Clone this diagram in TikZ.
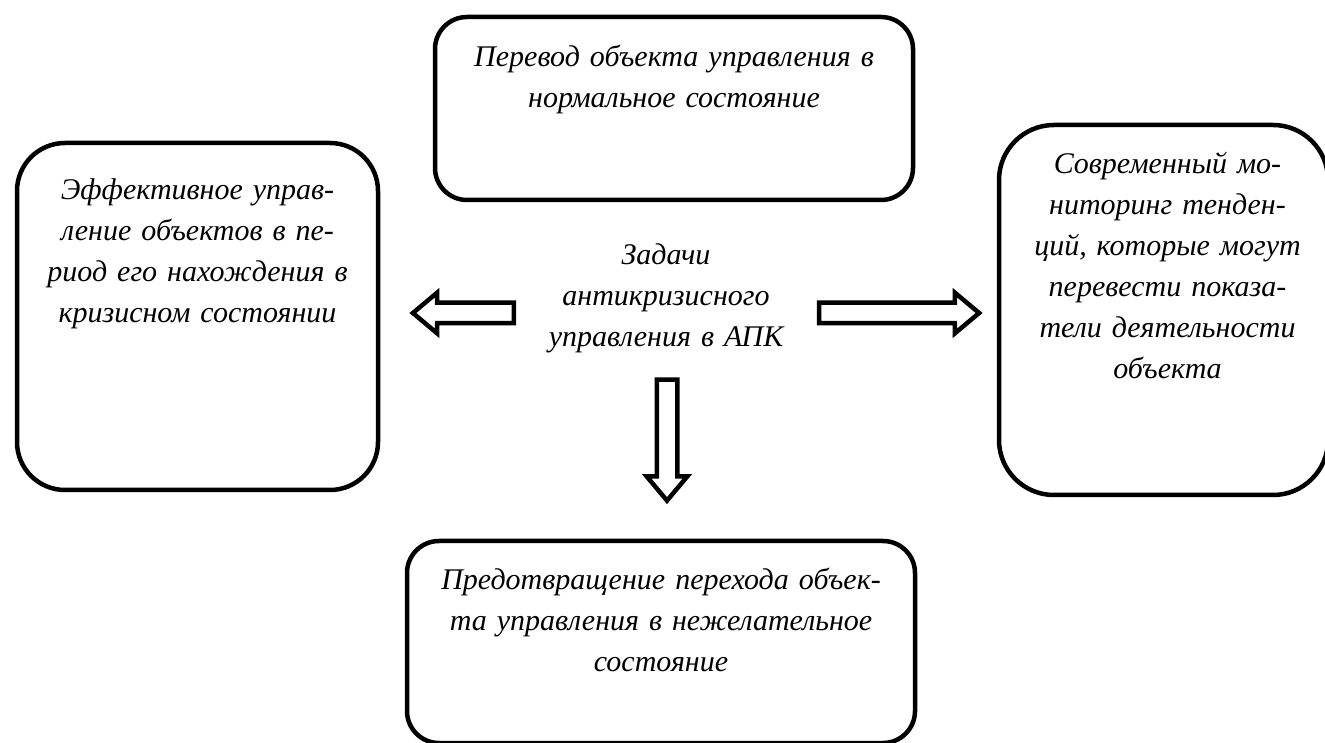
\documentclass[tikz,border=0pt]{standalone}
\usepackage{fontspec}
\setmainfont{Liberation Serif}
\usepackage{tikz}
\usetikzlibrary{shapes.arrows, positioning, calc}
\definecolor{TaskInk}{RGB}{0, 0, 0}

\begin{document}
\begin{tikzpicture}[x=1pt,y=1pt,
  taskbox/.style={draw=TaskInk, line width=4.5pt, fill=white, inner sep=0pt},
  tasktext/.style={anchor=base, align=center, inner sep=0pt, text=TaskInk,
    font=\fontsize{30}{41}\selectfont\itshape},
  hollowarrow/.style={single arrow, draw=TaskInk, line width=4.5pt, fill=white,
    inner sep=8pt, minimum width=0pt, outer sep=0pt,
    single arrow head extend=10pt, single arrow tip angle=80}]
  \path[use as bounding box] (0,0) rectangle (1325,742);
  \clip (0,0) rectangle (1325,742);

  % Task Boxes
  \node[taskbox, rounded corners=32pt, minimum width=478pt, minimum height=183pt] (normal) at (674,633.5) {};
  \node[taskbox, rounded corners=48pt, minimum width=361pt, minimum height=347pt] (crisis) at (197.5,425.5) {};
  \node[taskbox, rounded corners=55pt, minimum width=329pt, minimum height=370pt] (monitor) at (1163.5,432) {};
  \node[taskbox, rounded corners=32pt, minimum width=508pt, minimum height=202pt] (prevent) at (661,100) {};

  % Box Texts
  \node[tasktext, text width=460pt] (normaltext) at ([yshift=-52pt]normal.north)
    {Перевод объекта управления в\\нормальное состояние};
  \node[tasktext, text width=345pt] (crisistext) at ([yshift=-59pt]crisis.north)
    {Эффективное управ-\\ление объектов в пе-\\риод его нахождения в\\кризисном состоянии};
  \node[tasktext, text width=300pt] (monitortext) at ([xshift=4pt,yshift=-51pt]monitor.north)
    {Современный мо-\\ниторинг тенден-\\ций, которые могут\\перевести показа-\\тели деятельности\\объекта};
  \node[tasktext, text width=490pt] (preventtext) at ([yshift=-51pt]prevent.north)
    {Предотвращение перехода объек-\\та управления в нежелательное\\состояние};

  % Centre Title
  \node[tasktext, text width=300pt] (tasks) at (666,477)
    {Задачи\\антикризисного\\управления в АПК};

  % Block Arrows
  \node[hollowarrow, minimum height=101pt, shape border rotate=180] (toCrisis) at (469.5,429) {};
  \node[hollowarrow, minimum height=160pt] (toMonitor) at (893,429) {};
  \node[hollowarrow, minimum height=121pt, shape border rotate=270] (toPrevent) at (667,308) {};
\end{tikzpicture}
\end{document}
